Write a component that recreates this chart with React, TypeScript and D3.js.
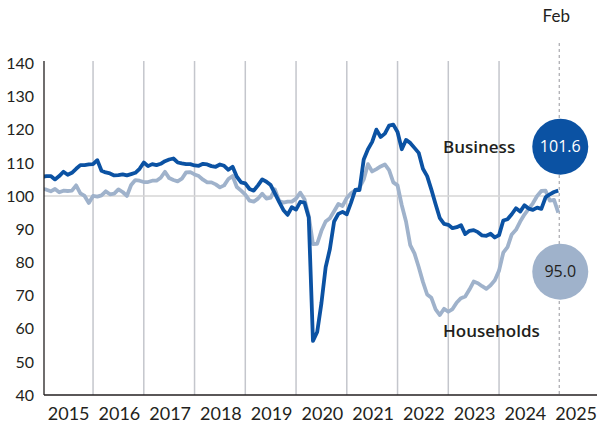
import React from "react";
import * as d3 from "d3";

// Monthly index values, Dec 2014 .. Feb 2025
const business: number[] = [
  105.8,
  106, 106, 105, 106, 107.3, 106.4, 107, 108.2, 109.3, 109.3, 109.5, 109.6,
  110.8, 107.6, 107.1, 106.8, 106.2, 106.3, 106.5, 106.2, 106.6, 107, 108.2, 110.1,
  109, 109.6, 109.3, 109.7, 110.5, 111, 111.3, 110.1, 109.8, 109.6, 109.6, 109.2,
  109.1, 109.7, 109.5, 109, 108.8, 109.5, 109.1, 107.9, 108.8, 105.8, 104.1, 103.8,
  102.1, 101.6, 103.2, 105, 104.3, 103.3, 100.8, 98.2, 95.8, 94.3, 96.6, 95.9,
  98.2, 98, 93.5, 56.3, 59, 67.7, 78.5, 84, 92.3, 94.6, 95.2, 94.5,
  98, 101.8, 101.8, 111, 114.1, 116.3, 120, 117.8, 118.8, 121.2, 121.5, 119.3,
  114.1, 116.9, 116, 114.5, 113, 108.2, 106, 101.9, 97.5, 93.3, 91.6, 91.3,
  90.3, 90.6, 91.2, 88.5, 89.5, 89.7, 89.1, 88.1, 88, 88.6, 87.5, 88.2,
  92.6, 93, 94.5, 96.3, 95.3, 97.2, 96.2, 95.8, 96.5, 96.1, 99.6, 100.5,
  101.2, 101.6,
];

const households: number[] = [
  102.2,
  101.9, 101.4, 102.1, 101.1, 101.6, 101.5, 101.6, 103.2, 100.8, 100, 97.9, 100,
  99.8, 100.2, 101.4, 100.5, 100.7, 102, 101.2, 100, 103.3, 104.8, 104.6, 104.2,
  104.2, 104.6, 104.6, 105.5, 107.3, 105.4, 104.8, 104.4, 105.2, 107.1, 107.2, 106.5,
  106, 104.9, 104.1, 104.1, 103.5, 102.6, 103.2, 105.1, 106, 102.7, 101.6, 100.4,
  98.6, 98.3, 99.2, 100.7, 99.2, 99.5, 102, 98.5, 98, 98.3, 98.3, 99.2,
  101, 99, 94, 85.5, 85.6, 89.5, 92.3, 93.3, 95.4, 97.6, 97, 99.4,
  100.8, 101.7, 102.5, 105, 109.6, 107.4, 108.1, 108.9, 109.5, 107.8, 104.1, 103.2,
  97.2, 92.3, 85.2, 82.7, 78.6, 74.1, 70.3, 69.3, 65.8, 64.1, 66, 65.1,
  65.9, 67.9, 69.2, 69.7, 71.8, 74.2, 73.7, 72.8, 72, 73.1, 74.6, 77.5,
  82.9, 84.6, 88.4, 89.8, 92.3, 94.4, 96.1, 97.8, 100, 101.5, 101.6, 98.6,
  98.8, 95,
];

const yTicks: number[] = [40, 50, 60, 70, 80, 90, 100, 110, 120, 130, 140];
const years: number[] = [2015, 2016, 2017, 2018, 2019, 2020, 2021, 2022, 2023, 2024, 2025];
const gridYears: number[] = [2016, 2017, 2018, 2019, 2020, 2021, 2022, 2023, 2024];
const latestLabel = "Feb";
const businessLabel = "Business";
const householdsLabel = "Households";
const businessLatest = "101.6";
const householdsLatest = "95.0";

const W = 601;
const H = 425;
const FONT = "Lato, 'Open Sans', sans-serif";
const LABEL_FONT = "'Open Sans', Lato, sans-serif";
const DARK = "#0b52a3";
const LIGHT = "#9fb2cb";
const TEXT = "#231f20";

export default function App() {
  const x = d3.scaleLinear().domain([2015, 2026]).range([42.3, 42.3 + 11 * 50.75]);
  const y = d3.scaleLinear().domain([40, 140]).range([395, 63.3]);
  const plotLeft = 44;
  const plotRight = 597;
  const plotTop = 61;
  const plotBottom = 395;

  // month i (starting Dec 2014 as i=0) plotted at month-end
  const t = (i: number) => 2015 + i / 12;
  const line = d3
    .line<number>()
    .x((_, i) => x(t(i)))
    .y((d) => y(d))
    .curve(d3.curveLinear);

  const lastT = t(business.length - 1);
  const lastX = x(lastT) + 1;
  const bubbleX = lastX + 1;

  return (
    <svg width={W} height={H} style={{ position: "absolute", left: 0, top: 0 }}>
      <defs>
        <clipPath id="plot">
          <rect x={plotLeft} y={0} width={plotRight - plotLeft} height={plotBottom} />
        </clipPath>
      </defs>
      <rect width={W} height={H} fill="#fff" />
      {gridYears.map((yr) => (
        <line key={yr} x1={x(yr)} x2={x(yr)} y1={plotTop} y2={plotBottom} stroke="#c4c6cc" strokeWidth={1.5} />
      ))}
      <line x1={plotLeft} x2={lastX} y1={y(100)} y2={y(100)} stroke="#d6d6d6" strokeWidth={1.5} />
      <line x1={lastX} x2={lastX} y1={43} y2={plotBottom} stroke="#a8a8ad" strokeWidth={1.2} strokeDasharray="3,3" />
      <g clipPath="url(#plot)">
        <path d={line(households) || ""} fill="none" stroke={LIGHT} strokeWidth={3.8} strokeLinejoin="round" />
        <path d={line(business) || ""} fill="none" stroke={DARK} strokeWidth={3.8} strokeLinejoin="round" />
      </g>
      <line x1={plotLeft} x2={plotLeft} y1={plotTop} y2={plotBottom} stroke={TEXT} strokeWidth={1.3} />
      <line x1={plotLeft} x2={plotRight} y1={plotBottom} y2={plotBottom} stroke={TEXT} strokeWidth={1.3} />
      {yTicks.map((v) => (
        <text key={v} x={34} y={y(v)} dy="0.36em" textAnchor="end" fontFamily={FONT} fontSize={16} fill={TEXT}>
          {v}
        </text>
      ))}
      {years.map((yr) => (
        <text key={yr} x={x(yr + 0.5) + 1} y={420} textAnchor="middle" fontFamily={FONT} fontSize={18} fill={TEXT}>
          {yr}
        </text>
      ))}
      <text x={lastX - 3} y={22} textAnchor="middle" fontFamily={FONT} fontSize={17} fill={TEXT}>
        {latestLabel}
      </text>
      <text x={443} y={153} fontFamily={LABEL_FONT} fontSize={17} fontWeight={600} fill={TEXT}>
        {businessLabel}
      </text>
      <text x={443} y={337} fontFamily={LABEL_FONT} fontSize={17} fontWeight={600} fill={TEXT}>
        {householdsLabel}
      </text>
      <circle cx={bubbleX} cy={146.7} r={28} fill={DARK} />
      <text x={bubbleX} y={146.7} dy="0.36em" textAnchor="middle" fontFamily={LABEL_FONT} fontSize={16} fontWeight={500} fill="#fff">
        {businessLatest}
      </text>
      <circle cx={bubbleX} cy={271.7} r={28} fill={LIGHT} />
      <text x={bubbleX} y={271.7} dy="0.36em" textAnchor="middle" fontFamily={LABEL_FONT} fontSize={16} fontWeight={500} fill={TEXT}>
        {householdsLatest}
      </text>
    </svg>
  );
}
